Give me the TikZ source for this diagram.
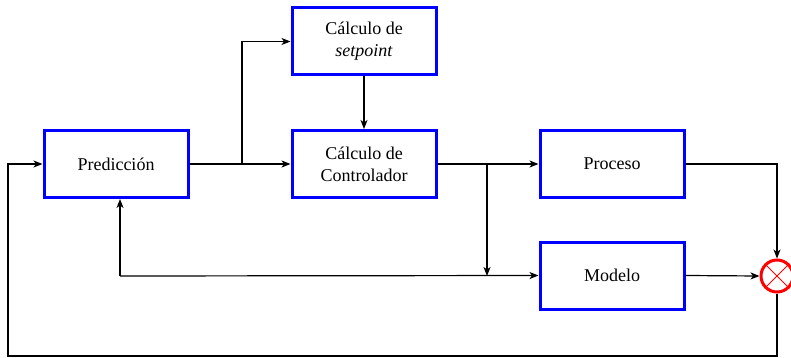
\documentclass[tikz,border=0pt]{standalone}
\usepackage{fontspec}
\setmainfont{Liberation Serif}
\usetikzlibrary{arrows.meta}
\begin{document}
\begin{tikzpicture}[x=1pt,y=-1pt,
  blk/.style={draw=blue,line width=3pt,minimum width=144pt,minimum height=67pt,align=center,font=\fontsize{18}{22}\selectfont,inner sep=0pt},
  con/.style={line width=1.2pt,-{Stealth[length=9pt,width=7pt,inset=2.5pt]}},
  lin/.style={line width=1.2pt}]
\useasboundingbox (0,0) rectangle (791,358);
\node[blk] (pred) at (116,164) {Predicción};
\node[blk] (sp) at (364,41.5) {Cálculo de\\\textit{setpoint}};
\node[blk] (ctrl) at (364,164) {Cálculo de\\Controlador};
\node[blk] (proc) at (612,164) {Proceso};
\node[blk] (mod) at (612,275.5) {Modelo};
\node[circle,draw=red,line width=3pt,minimum size=32pt,inner sep=0pt] (sum) at (777,276) {};
\draw[red,line width=0.8pt] (sum.north west) -- (sum.south east) (sum.north east) -- (sum.south west);
\coordinate (b1) at (242,164);
\coordinate (b2) at (487,164);
\coordinate (b3) at (487,276);
\coordinate (b4) at (120,276);
\draw[con] (pred.east) -- (ctrl.west);
\draw[con] (b1) |- (sp.west);
\draw[con] (sp.south) -- (ctrl.north);
\draw[con] (ctrl.east) -- (proc.west);
\draw[con] (b2) -- (b3);
\draw[con] (b4) -- (mod.west);
\draw[con] (b4) -- (b4 |- pred.south);
\draw[con] (proc.east) -| (sum.north);
\draw[con] (mod.east) -- (sum.west);
\draw[con] (sum.south) -- (777,356) -- (8,356) |- (pred.west);
\end{tikzpicture}
\end{document}
